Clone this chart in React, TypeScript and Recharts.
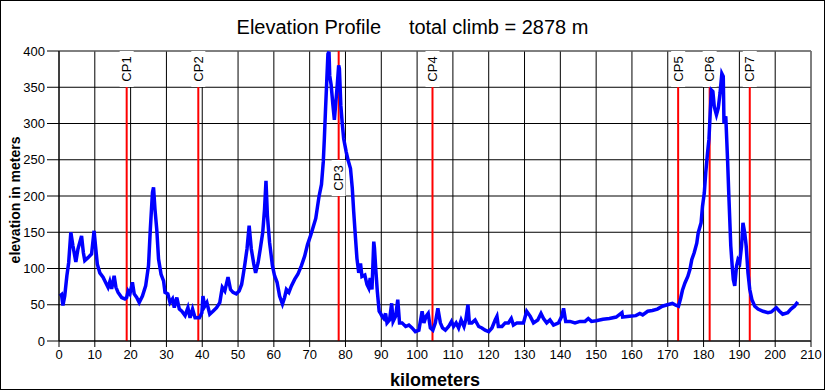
import React from 'react';
import {
  LineChart, Line, XAxis, YAxis, CartesianGrid, ReferenceLine,
} from 'recharts';

// ─── Data ──────────────────────────────────────────────────────────────────────
const km = [
  0.2, 0.7, 1.1, 1.6, 2.2, 2.7, 3.3, 3.9, 4.7, 5.3, 6.3, 6.8, 7.2, 8.1, 9.1, 9.8,
  10.2, 10.7, 11.4, 12.3, 13.3, 13.7, 14.2, 14.7, 15.4, 15.9, 16.5, 17.5, 18.4, 18.9, 19.3, 19.8,
  20.5, 21.0, 21.7, 22.4, 23.3, 24.2, 25.0, 25.5, 26.1, 26.4, 26.8, 27.3, 27.8, 28.5, 29.2, 29.6,
  30.4, 31.0, 31.7, 32.2, 32.9, 33.6, 34.3, 35.2, 36.0, 36.6, 37.3, 38.0, 39.2, 39.9,
  40.2, 40.7, 41.3, 42.1, 43.0, 44.0, 44.9, 45.6, 46.3, 47.2, 47.9, 48.6, 49.5,
  50.3, 51.0, 51.4, 51.9, 52.5, 53.1, 53.7, 54.4, 54.9, 55.6, 56.2, 56.9, 57.4, 57.8, 58.2, 58.8, 59.6,
  60.2, 60.9, 61.6, 62.4, 63.0, 63.5, 64.2, 64.9, 65.8, 66.7, 67.7, 68.6, 69.4,
  70.3, 70.9, 71.7, 72.6, 73.3, 73.8, 74.1, 74.4, 74.8, 75.1, 75.4, 75.6, 76.0, 76.5, 76.9, 77.2, 77.7, 78.1, 78.3, 78.7, 79.1, 79.5,
  80.2, 80.7, 81.4, 81.9, 82.3, 82.8, 83.2, 83.7, 84.2, 84.6, 85.4, 86.0, 86.5, 86.9, 87.4, 87.9, 88.1, 88.5, 88.9, 89.4, 89.8,
  90.2, 90.7, 91.2, 91.6, 92.3, 92.9, 93.3, 94.0, 94.6, 95.1, 95.8, 96.8, 97.7, 98.6, 99.5,
  100.5, 101.4, 101.9, 102.5, 103.1, 103.7, 104.4, 105.1, 105.8, 106.5, 107.1, 107.9, 108.8, 109.6,
  110.2, 110.9, 111.6, 112.3, 113.1, 113.6, 114.2, 114.6, 115.3, 116.2, 117.2, 118.1, 119.0,
  120.0, 120.9, 121.8, 122.3, 122.7, 123.7, 124.6, 125.5, 126.3, 126.9, 127.9, 128.8, 129.7,
  130.6, 131.6, 132.5, 133.7, 134.6, 135.3, 136.2, 137.1, 138.1, 139.5,
  140.4, 140.9, 141.5, 142.7, 144.1, 145.5, 146.9, 147.8, 148.7,
  150.0, 151.9, 153.7, 155.6, 157.2, 157.4, 159.3,
  161.1, 162.2, 163.0, 164.4, 165.7, 167.1, 168.5, 169.9,
  171.3, 172.0, 172.4, 173.0, 173.6, 174.1, 174.8, 175.6, 176.2, 176.7, 177.4, 178.1, 178.5, 179.3, 179.7,
  180.2, 180.6, 181.1, 181.5, 181.9, 182.2, 182.6, 183.0, 183.6, 184.1, 184.6, 185.1, 185.5, 185.7, 186.2, 186.7, 187.1, 187.6, 188.0, 188.3, 188.7, 189.2, 189.6,
  190.1, 190.6, 191.0, 191.5, 191.9, 192.4, 192.9, 193.5, 194.3, 195.2, 196.6, 198.0, 198.9,
  200.3, 201.2, 202.1, 203.5, 204.4, 205.4, 206.3,
];

const elevation = [
  62, 64, 49, 62, 90, 108, 150, 131, 109, 127, 145, 122, 111, 115, 120, 152,
  131, 106, 94, 88, 78, 74, 82, 72, 90, 74, 67, 60, 58, 60, 69, 65,
  81, 65, 60, 53, 62, 76, 104, 154, 205, 212, 182, 154, 113, 92, 83, 67,
  65, 53, 58, 46, 60, 44, 41, 35, 46, 32, 44, 32, 32, 39,
  62, 48, 53, 37, 41, 46, 53, 74, 69, 88, 71, 67, 65,
  69, 78, 90, 106, 127, 159, 127, 106, 94, 108, 127, 150, 182, 221, 173, 136, 104,
  90, 81, 62, 51, 60, 71, 67, 76, 85, 92, 104, 117, 133,
  146, 156, 169, 199, 216, 247, 279, 316, 362, 396, 399, 366, 353, 325, 305, 323, 353, 380, 376, 325, 300, 279,
  261, 250, 238, 211, 178, 142, 114, 94, 107, 89, 91, 78, 73, 87, 71, 137, 128, 96, 68, 41, 38,
  34, 31, 38, 25, 29, 52, 27, 34, 57, 25, 25, 20, 22, 18, 13,
  15, 41, 25, 34, 38, 18, 15, 25, 45, 25, 18, 15, 20, 27,
  20, 25, 18, 29, 20, 29, 50, 25, 25, 29, 20, 18, 15,
  13, 18, 29, 34, 20, 20, 25, 25, 31, 22, 25, 25, 25,
  41, 34, 25, 29, 38, 31, 25, 29, 22, 25,
  34, 45, 27, 27, 25, 27, 27, 31, 27,
  28, 30, 31, 33, 39, 33, 34,
  35, 38, 36, 41, 42, 44, 48, 50,
  52, 50, 49, 48, 59, 70, 80, 89, 99, 112, 122, 135, 149, 163, 186,
  204, 232, 259, 278, 319, 346, 344, 323, 312, 321, 342, 369, 365, 300, 310, 250, 195, 131, 103, 85, 76, 103, 112,
  108, 131, 163, 149, 131, 94, 71, 57, 48, 44, 41, 39, 40,
  46, 41, 37, 39, 44, 48, 54,
];

const cpNames = ['CP1', 'CP2', 'CP3', 'CP4', 'CP5', 'CP6', 'CP7'];
const cpKm    = [18.9, 38.9, 78.1, 104.3, 172.9, 181.7, 192.9];

const xTicks = [0, 10, 20, 30, 40, 50, 60, 70, 80, 90, 100, 110, 120, 130, 140, 150, 160, 170, 180, 190, 200, 210];
const yTicks = [0, 50, 100, 150, 200, 250, 300, 350, 400];

// ─── Style ─────────────────────────────────────────────────────────────────────
const FONT = '"Liberation Sans", Arial, sans-serif';
// vertical position of each checkpoint label (px below plot top, centre of text)
const CP_LABEL_DY = [18, 18, 127, 18, 18, 18, 18];

const data = km.map((k, i) => ({ km: k, elev: elevation[i] }));

function cpLabel(name: string, dy: number) {
  return ({ viewBox }: any) => {
    const x = viewBox.x;
    const y = viewBox.y + dy;
    return (
      <g>
        <rect x={x - 7} y={y - 18} width={14} height={36} fill="#fff" />
        <text
          x={x} y={y}
          transform={`rotate(-90 ${x} ${y})`}
          textAnchor="middle" dominantBaseline="central"
          fontSize={13} fontFamily={FONT} fill="#000"
        >
          {name}
        </text>
      </g>
    );
  };
}

const yLabel = ({ viewBox }: any) => {
  const cx = 15;
  const cy = viewBox.y + viewBox.height / 2 + 4;
  return (
    <text
      x={cx} y={cy}
      transform={`rotate(-90 ${cx} ${cy})`}
      textAnchor="middle" dominantBaseline="central"
      fontSize={14} fontWeight="bold" fontFamily={FONT} fill="#000"
    >
      elevation in meters
    </text>
  );
};

export default function App() {
  return (
    <div style={{ position: 'relative', width: 825, height: 390, background: '#fff', fontFamily: FONT }}>
      <style>{'body{margin:0}'}</style>
      <div
        style={{
          position: 'absolute', left: 0, top: 15, width: 825, textAlign: 'center',
          fontSize: 20, lineHeight: '24px', color: '#000', whiteSpace: 'pre',
        }}
      >
        {'Elevation Profile     total climb = 2878 m'}
      </div>
      <LineChart
        width={825}
        height={390}
        data={data}
        margin={{ top: 51, right: 14, left: 0, bottom: 0 }}
      >
        <CartesianGrid stroke="#000" strokeWidth={1} />
        <XAxis
          dataKey="km"
          type="number"
          domain={[0, 210]}
          ticks={xTicks}
          interval={0}
          height={49}
          tickSize={6}
          tickMargin={3}
          tick={{ fontSize: 13, fill: '#000', fontFamily: FONT }}
          stroke="#000"
          label={{
            value: 'kilometers', position: 'insideBottom', offset: 4,
            style: { fontSize: 18, fontWeight: 'bold', fill: '#000', fontFamily: FONT },
          }}
        />
        <YAxis
          type="number"
          domain={[0, 400]}
          ticks={yTicks}
          interval={0}
          width={59}
          tickSize={12}
          tickMargin={2}
          allowDataOverflow
          tick={{ fontSize: 13, fill: '#000', fontFamily: FONT }}
          stroke="#000"
          label={yLabel}
        />
        <ReferenceLine y={400} stroke="#808080" strokeWidth={1} />
        <ReferenceLine x={210} stroke="#808080" strokeWidth={1} />
        {cpNames.map((name, i) => (
          <ReferenceLine
            key={name}
            x={cpKm[i]}
            stroke="#ff0000"
            strokeWidth={2}
            label={cpLabel(name, CP_LABEL_DY[i])}
          />
        ))}
        <Line
          dataKey="elev"
          type="linear"
          stroke="#0000ff"
          strokeWidth={3.5}
          dot={false}
          isAnimationActive={false}
        />
      </LineChart>
      <div
        style={{
          position: 'absolute', left: 0, top: 0, width: 823, height: 388,
          border: '1px solid #000', pointerEvents: 'none',
        }}
      />
    </div>
  );
}
